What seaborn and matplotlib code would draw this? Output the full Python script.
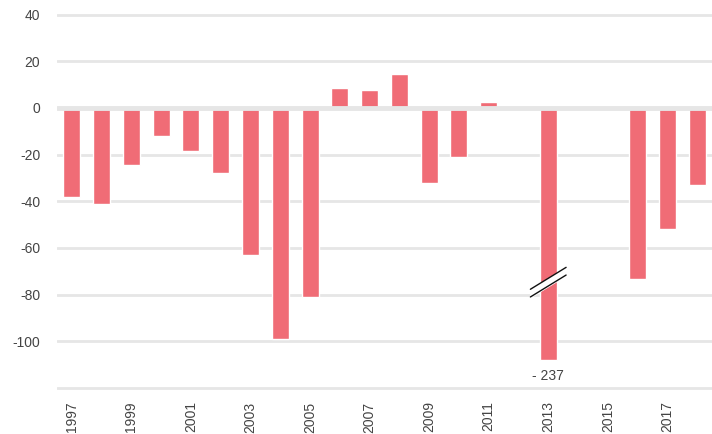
import matplotlib
matplotlib.use("Agg")
import matplotlib.pyplot as plt
import seaborn as sns
import pandas as pd
import numpy as np

years = [str(y) for y in range(1997, 2019)]
values = [-38, -41, -24.5, -11.8, -18.5, -28, -63, -99, -81, 8.5, 7.5, 14.5,
          -32, -21, 2.5, 0.4, -237, 0.4, 0.4, -73.5, -52, -33]
display_floor = -108  # axis break: bars below are drawn truncated here
break_value = -73

sns.set_theme(style="white")
plt.rcParams['font.family'] = ['Liberation Sans', 'DejaVu Sans']

shown = [max(v, display_floor) for v in values]
df = pd.DataFrame({"year": years, "value": shown})

fig = plt.figure(figsize=(7.12, 4.34), dpi=100)
ax = fig.add_axes([57/712, 1-390.3/434, 1-57/712, (390.3-10)/434])

bar_color = "#F06C76"
grid_color = "#E6E6E6"

for v in [40, 20, -20, -40, -60, -80, -100, -120]:
    ax.axhline(v, color=grid_color, lw=2, zorder=0)
ax.axhline(0, color=grid_color, lw=3.5, zorder=3)

sns.barplot(data=df, x="year", y="value", color=bar_color, width=0.57,
            saturation=1, ax=ax, zorder=2)

ax.set_xlim(-0.5, 21.5)
ax.set_ylim(-121, 42)
ax.set_yticks([40, 20, 0, -20, -40, -60, -80, -100])
ax.set_yticklabels(["40", "20", "0", "-20", "-40", "-60", "-80", "-100"])
ax.set_xticks(range(0, 22, 2))
ax.set_xticklabels(years[::2], rotation=90)
ax.tick_params(axis='both', length=0, labelsize=10, colors="#444444")
ax.tick_params(axis='x', pad=8)
ax.tick_params(axis='y', pad=12)
ax.set_xlabel("")
ax.set_ylabel("")
for s in ax.spines.values():
    s.set_visible(False)

# axis break marks for the truncated bar(s)
for i, v in enumerate(values):
    if v < display_floor:
        dx = 0.6
        dy = 4.7
        gap = 3.3
        xs = np.array([i - dx, i + dx])
        y1 = np.array([break_value - dy, break_value + dy])
        y2 = y1 - gap
        ax.fill_between(xs, y2, y1, color="white", zorder=4)
        ax.plot(xs, y1, color="#111111", lw=1, zorder=5)
        ax.plot(xs, y2, color="#111111", lw=1, zorder=5)
        ax.text(i, display_floor - 4, f"- {abs(v)}", ha="center", va="top",
                fontsize=10, color="#444444")

fig.savefig("out.png", dpi=100)
